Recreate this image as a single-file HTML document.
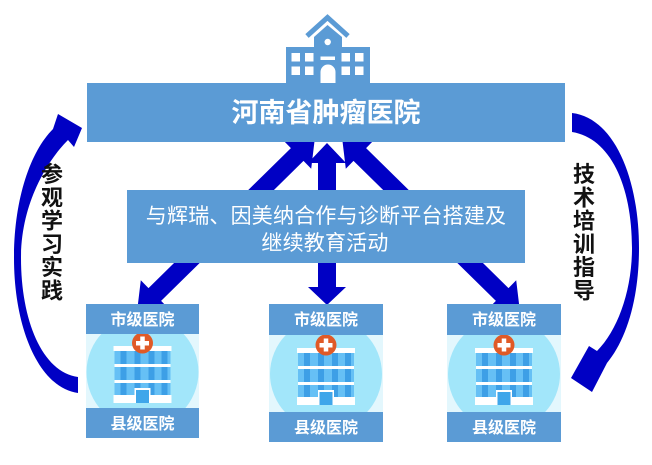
<!DOCTYPE html>
<html>
<head>
<meta charset="utf-8">
<style>
html,body{margin:0;padding:0;background:#fff;}
svg{display:block;}
text{font-family:"Liberation Sans","Noto Sans CJK SC",sans-serif;}
</style>
</head>
<body>
<svg width="652" height="465" viewBox="0 0 652 465" xmlns="http://www.w3.org/2000/svg">
<rect x="0" y="0" width="652" height="465" fill="#ffffff"/>

<!-- straight double arrows (behind boxes) -->
<g fill="#0000c4">
  <polygon points="315,137 311.2,168.8 303.5,160.9 161.1,300.9 168.8,308.8 137,312 140.8,280.2 148.5,288.1 290.9,148.1 283.2,140.2"/>
  <polygon points="342,137 345.8,168.8 353.5,160.9 495.9,300.9 488.2,308.8 520,312 516.2,280.2 508.5,288.1 366.1,148.1 373.8,140.2"/>
  <polygon points="327,143 346,163 336,163 336,287 346,287 327,305 308,287 318,287 318,163 308,163"/>
</g>

<!-- curved side arrows -->
<g fill="#0000c4">
  <path d="M 78 393 C 40 388, 14 330, 14 258 C 14 200, 30 152, 53 129 L 58 114 L 82 128 L 74 147 L 68 140 C 46 162, 21 205, 21 258 C 21 320, 42 372, 78 377 Z"/>
  <path d="M 572 113 C 615 118, 639 180, 639 248 C 639 300, 626 340, 607 363 L 592 392 L 571 378 L 589 346 L 597 351 C 618 330, 632 290, 632 248 C 632 185, 610 138, 572 132 Z"/>
</g>

<!-- building icon on top -->
<g fill="#5b9bd5">
  <polyline points="307,36 327.5,17.5 348,36" fill="none" stroke="#5b9bd5" stroke-width="5" stroke-linejoin="miter"/>
  <polygon points="314,37 327.5,25 342,37 342,48 314,48"/>
  <rect x="286" y="47" width="84" height="40"/>
</g>
<g fill="#ffffff">
  <circle cx="327.7" cy="42" r="3.2"/>
  <rect x="291.5" y="53" width="8.5" height="8.5"/>
  <rect x="305" y="53" width="8.5" height="8.5"/>
  <rect x="341.5" y="53" width="8.5" height="8.5"/>
  <rect x="355" y="53" width="8.5" height="8.5"/>
  <rect x="291.5" y="66.5" width="8.5" height="8.5"/>
  <rect x="305" y="66.5" width="8.5" height="8.5"/>
  <rect x="341.5" y="66.5" width="8.5" height="8.5"/>
  <rect x="355" y="66.5" width="8.5" height="8.5"/>
  <rect x="320.5" y="56.5" width="14.5" height="3.5"/>
  <path d="M 320.5 83 L 320.5 72 A 7.5 7.5 0 0 1 335.5 72 L 335.5 83 Z"/>
</g>

<!-- top box -->
<rect x="87" y="83" width="478" height="59" fill="#5b9bd5"/>
<text x="326" y="122" text-anchor="middle" font-size="27" font-weight="bold" fill="#ffffff">河南省肿瘤医院</text>

<!-- middle box -->
<rect x="127" y="190" width="398" height="73" fill="#5b9bd5"/>
<text x="326" y="223" text-anchor="middle" font-size="21" fill="#ffffff" letter-spacing="0.2">与辉瑞、因美纳合作与诊断平台搭建及</text>
<text x="325" y="250" text-anchor="middle" font-size="21" fill="#ffffff" letter-spacing="0.2">继续教育活动</text>

<!-- side texts -->
<g font-size="22" font-weight="bold" fill="#111111" text-anchor="middle">
  <text x="52" y="182">参</text>
  <text x="52" y="205.3">观</text>
  <text x="52" y="228.6">学</text>
  <text x="52" y="251.9">习</text>
  <text x="52" y="275.2">实</text>
  <text x="52" y="298.5">践</text>
  <text x="584" y="182">技</text>
  <text x="584" y="205.3">术</text>
  <text x="584" y="228.6">培</text>
  <text x="584" y="251.9">训</text>
  <text x="584" y="275.2">指</text>
  <text x="584" y="298.5">导</text>
</g>

<defs>
  <clipPath id="c1"><rect x="86" y="334" width="113" height="74"/></clipPath>
  <clipPath id="c2"><rect x="269" y="335" width="114" height="77"/></clipPath>
  <clipPath id="c3"><rect x="447" y="335" width="114" height="77"/></clipPath>
  <g id="hosp">
    <rect x="-29" y="0" width="58" height="5" fill="#ffffff"/>
    <rect x="-28" y="5" width="56" height="13" fill="#66c0f5"/>
    <rect x="-28" y="18" width="56" height="3" fill="#ffffff"/>
    <rect x="-28" y="21" width="56" height="13" fill="#66c0f5"/>
    <rect x="-28" y="34" width="56" height="3" fill="#ffffff"/>
    <rect x="-28" y="37" width="56" height="12" fill="#66c0f5"/>
    <g fill="#3d9fe6">
      <rect x="-22" y="5" width="6" height="13"/><rect x="-8" y="5" width="6" height="13"/><rect x="6" y="5" width="6" height="13"/><rect x="19" y="5" width="6" height="13"/>
      <rect x="-22" y="21" width="6" height="13"/><rect x="-8" y="21" width="6" height="13"/><rect x="6" y="21" width="6" height="13"/><rect x="19" y="21" width="6" height="13"/>
      <rect x="-22" y="37" width="6" height="12"/><rect x="-8" y="37" width="6" height="12"/><rect x="6" y="37" width="6" height="12"/><rect x="19" y="37" width="6" height="12"/>
    </g>
    <rect x="-29" y="49" width="58" height="8" fill="#ffffff"/>
    <rect x="-8" y="42" width="16" height="15" fill="#ffffff"/>
    <rect x="-6.5" y="44" width="13" height="13" fill="#3fa6ea"/>
    <circle cx="0" cy="-3" r="10.5" fill="#e05a27"/>
    <rect x="-6.5" y="-5" width="13" height="4.5" fill="#ffffff"/>
    <rect x="-2.25" y="-9.5" width="4.5" height="13" fill="#ffffff"/>
  </g>
</defs>

<!-- left card -->
<rect x="86" y="334" width="113" height="74" fill="#e3f7fd"/>
<circle cx="142.5" cy="372" r="56" fill="#a2e6fa" clip-path="url(#c1)"/>
<use href="#hosp" x="142.5" y="346"/>
<rect x="86" y="304" width="113" height="30" fill="#5b9bd5"/>
<rect x="86" y="408" width="113" height="30" fill="#5b9bd5"/>
<text x="142.5" y="325" text-anchor="middle" font-size="16" font-weight="bold" fill="#ffffff">市级医院</text>
<text x="142.5" y="429" text-anchor="middle" font-size="16" font-weight="bold" fill="#ffffff">县级医院</text>

<!-- middle card -->
<rect x="269" y="335" width="114" height="77" fill="#e3f7fd"/>
<circle cx="326" cy="374" r="56" fill="#a2e6fa" clip-path="url(#c2)"/>
<use href="#hosp" x="326" y="348"/>
<rect x="269" y="304" width="114" height="31" fill="#5b9bd5"/>
<rect x="269" y="412" width="114" height="30" fill="#5b9bd5"/>
<text x="326" y="325" text-anchor="middle" font-size="16" font-weight="bold" fill="#ffffff">市级医院</text>
<text x="326" y="433" text-anchor="middle" font-size="16" font-weight="bold" fill="#ffffff">县级医院</text>

<!-- right card -->
<rect x="447" y="335" width="114" height="77" fill="#e3f7fd"/>
<circle cx="504" cy="374" r="56" fill="#a2e6fa" clip-path="url(#c3)"/>
<use href="#hosp" x="504" y="348"/>
<rect x="447" y="304" width="114" height="31" fill="#5b9bd5"/>
<rect x="447" y="412" width="114" height="30" fill="#5b9bd5"/>
<text x="504" y="325" text-anchor="middle" font-size="16" font-weight="bold" fill="#ffffff">市级医院</text>
<text x="504" y="433" text-anchor="middle" font-size="16" font-weight="bold" fill="#ffffff">县级医院</text>
</svg>
</body>
</html>
